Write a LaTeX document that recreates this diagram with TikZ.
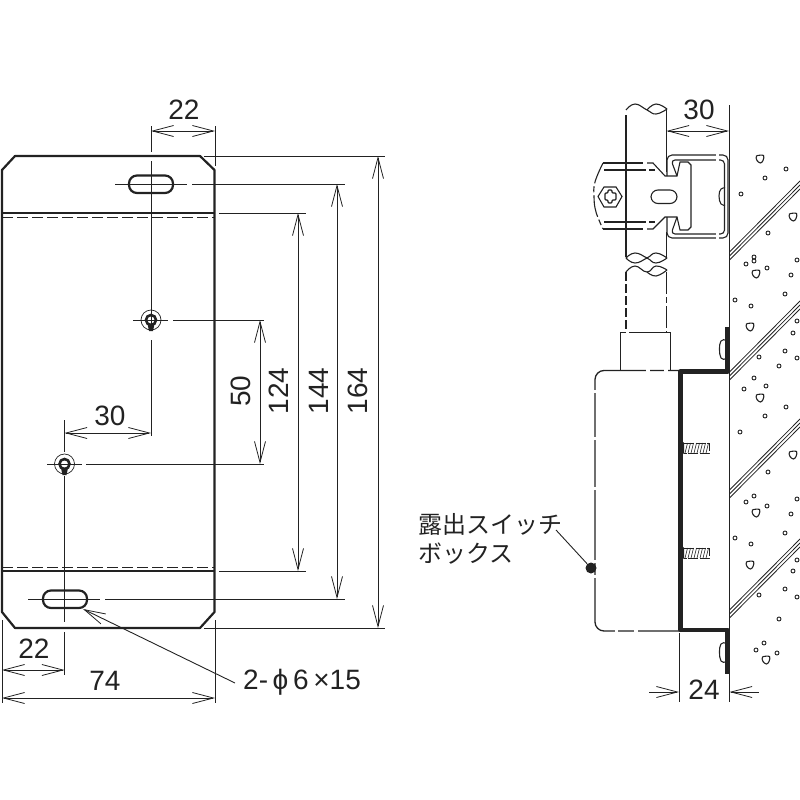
\documentclass[tikz,border=0pt]{standalone}
\usepackage{fontspec}
\setmainfont{Liberation Sans}
\newfontfamily\cjk{Noto Sans CJK JP}
\usetikzlibrary{positioning,arrows.meta}
\definecolor{ink}{HTML}{222222}
\tikzset{
	outline/.style={draw=ink,line width=2.2pt,line join=round},
	plate/.style={draw=ink,line width=4.4pt,line join=round},
	fine/.style={draw=ink,line width=1pt},
	part/.style={draw=ink,line width=1.1pt},
	dim/.style={draw=ink,line width=.9pt,{Straight Barb[length=21pt,width=11pt,line width=.8pt]}-{Straight Barb[length=21pt,width=11pt,line width=.8pt]}},
	ptr/.style={draw=ink,line width=.9pt,{Straight Barb[length=21pt,width=11pt,line width=.8pt]}-},
	ext/.style={draw=ink,line width=.9pt},
	num/.style={text=ink,font=\fontsize{28}{28}\selectfont,inner sep=0pt},
	jp/.style={text=ink,font=\cjk\fontsize{24}{24}\selectfont,inner sep=0pt,anchor=west},
	pebble/.style={draw=ink,line width=.9pt,circle,inner sep=0pt,minimum size=4pt}
}
\begin{document}
\begin{tikzpicture}[x=1pt,y=-1pt]
\useasboundingbox (0,0) rectangle (800,800);

% plate seen from the front
\draw[outline] (2,170)--(15,156)--(200,156)--(214.5,170)--(214.5,612)--(200,628)--(15,628)--(2,612)--cycle;
\draw[outline] (2,213)--(214.5,213);
\draw[outline] (2,571)--(214.5,571);
\draw[fine,dash pattern=on 11pt off 4pt] (2,217)--(214.5,217);
\draw[fine,dash pattern=on 11pt off 4pt] (2,567)--(214.5,567);
\draw[outline,rounded corners=8pt] (129,175.5) rectangle (173,193);
\draw[outline,rounded corners=8pt] (43,590.5) rectangle (87,608);

% key holes
\foreach \x/\y/\n in {151/320/holeA,64.5/464/holeB}{
	\node[circle,draw=ink,line width=.7pt,inner sep=0pt,minimum size=20pt] (\n) at (\x,\y) {};
	\draw[draw=ink,line width=2.6pt] (\x,\y) circle (5pt);
	\fill[ink] (\x-3.5,\y+4)--(\x+3.5,\y+4)--(\x+2,\y+11)--(\x-2,\y+11)--cycle;
}

% centre lines
\foreach \a/\b/\c/\d in {151/126/151/152,151/161/151/330,151/340/151/436,
	64.5/420/64.5/452,64.5/476/64.5/622,64.5/632/64.5/675,
	115/184/187/184,192/184/345/184,133/320/168/320,173/320/264/320,
	47/464/82/464,86/464/264/464,28/599/100/599,105/599/345/599,
	215/126/215/166,204/156/385/156,204/628/385/628,219/213/306/213,219/571/306/571,
	2/620/2/703,215/620/215/703,679/633/679/702}{
	\draw[ext] (\a,\b)--(\c,\d);
}

% dimensions
\foreach \a/\b/\c/\d in {151/131/215/131,64.5/433/151/433,2/670/64.5/670,2/698/215/698,
	378/156/378/628,337/184/337/599,298/213/298/571,260/320/260/464,666.5/131/729/131}{
	\draw[dim] (\a,\b)--(\c,\d);
}
\draw[ptr] (679,692)--(649,692);
\draw[ptr] (729.5,692)--(759,692);

\node[num] (top22) at (184,110) {22};
\node[num] (mid30) at (110,416) {30};
\node[num] (low22) at (34,649) {22};
\node[num] (wide74) at (105,681) {74};
\foreach \y/\t in {241/50,279/124,319/144,358/164}{
	\node[num,rotate=90] (h\t) at (\y,391) {\t};
}
\node[num] (wall30) at (699,110) {30};
\node[num] (wall24) at (704,690) {24};

\node[num,anchor=west] (slotlabel) at (243,682) {2-\,ϕ\,6\,×15};
\coordinate (slotedge) at (83,609);
\draw[ptr] (slotedge)--(235,683);

% wall
\draw[fine] (729.5,105)--(729.5,702);
\foreach \y in {252,256,260,372,376,380,490,494,498,610,614,618}{
	\draw[ext,line width=.8pt] (729.5,\y)--(800,\y-71);
}
\foreach \x/\y in {786/169,765/178,741/194,768/233,754/257,754/261,746/264,767/268,797/260,791/275,785/294,735/300,751/306,
	797/321,793/333,785/351,797/358,759/357,779/366,754/378,766/386,744/389,786/407,765/416,740/432,768/472,754/496,746/502,767/506,797/499,
	791/514,785/533,735/538,751/544,797/560,793/571,785/589,797/597,759/595,779/619,764/643,756/650,777/653}{
	\node[pebble] at (\x,\y) {};
}
\foreach \x/\y in {760/159,793/217,756/274,750/327,760/398,793/455,756/513,750/565,766/660}{
	\draw[part] plot[smooth cycle,tension=.6] coordinates {(\x-3.5,\y-3)(\x+3.5,\y-3.5)(\x+3,\y+1.5)(\x+.5,\y+4)(\x-3,\y+1.5)};
}

% pipe with its breaks
\draw[part] plot[smooth,tension=.8] coordinates {(626,110)(635,104)(647,110)(656,114)(667,109)};
\draw[part] plot[smooth,tension=.8] coordinates {(647,110)(656,104)(667,109)};
\draw[part] plot[smooth,tension=.8] coordinates {(626,258)(635,253)(647,258)(656,263)(667,258)};
\draw[part] plot[smooth,tension=.8] coordinates {(626,258)(635,263)(647,258)(656,253)(667,258)};
\draw[part] plot[smooth,tension=.8] coordinates {(626,272)(635,266)(647,272)(656,266)(667,270)};
\draw[part] plot[smooth,tension=.8] coordinates {(647,272)(656,276)(667,270)};
\draw[part] (626,115)--(626,257);
\draw[part] (666.5,110)--(666.5,172);
\draw[part] (666.5,232)--(666.5,258);
\draw[part,dash pattern=on 9pt off 3pt] (626,272)--(626,333);
\draw[part,dash pattern=on 22pt off 3pt on 6pt off 3pt] (666.5,272)--(666.5,333);

% clamp on the channel
\draw[part,line width=2pt] (603,163)--(643,163);
\draw[part] (647,163)--(653,163)--(665,176)--(677,176)--(680,162)--(688,162)--(691,165)--(691,227)--(688,230)--(680,230)--(677,217)--(665,217)--(653,229)--(647,229);
\draw[part,line width=2pt] (603,229)--(643,229);
\draw[part] (604,170)--(640,170);
\draw[part,dash pattern=on 6pt off 3pt] (640,170)--(655,170);
\draw[part] (604,222)--(640,222);
\draw[part,dash pattern=on 6pt off 3pt] (640,222)--(655,222);
\draw[part,dash pattern=on 22pt off 3pt on 6pt off 3pt] plot[smooth,tension=.7] coordinates {(603,163)(595,182)(594,197)(596,212)(603,229)};
\draw[part,rounded corners=7pt] (651,190) rectangle (677,203.5);
\draw[part] (598,196.5)--(604,187)--(616,187)--(622,196.5)--(616,207)--(604,207)--cycle;
\draw[part,rounded corners=1pt] (605,193)--(608,193)--(608,190)--(612,190)--(612,193)--(616,193)--(616,200)--(612,200)--(612,203)--(608,203)--(608,200)--(605,200)--cycle;

% channel
\draw[part,rounded corners=5pt] (667,176)--(667,155)--(728,155)--(728,238)--(667,238)--(667,217);
\draw[part,rounded corners=4pt] (677,176)--(671,160)--(724.5,160)--(724.5,234)--(671,234)--(677,217);
\draw[white,line width=2pt] (716,155)--(719,155) (716,238)--(719,238) (716,160)--(719,160) (716,234)--(719,234);
\draw[part] plot[smooth,tension=.8] coordinates {(725,188)(721,189)(719,196)(721,204)(725,205)};

% switch box
\draw[part,line width=1.3pt,rounded corners=9pt] (680,370.5)--(595,370.5)--(595,631)--(680,631);
\draw[white,line width=3pt] (646,370.5)--(650,370.5) (664,370.5)--(668,370.5);
\draw[white,line width=3pt] (615,631)--(618,631) (634,631)--(638,631);
\foreach \y in {390,437,487,560,575}{
	\draw[white,line width=3pt] (595,\y)--(595,\y+3);
}
\draw[part,line width=1.3pt] (620.5,370.5)--(620.5,332.5)--(670.5,332.5)--(670.5,370.5);
\draw[white,line width=3pt] (626,332.5)--(629,332.5);

% mounting plate
\draw[plate,line cap=butt] (727.5,327)--(727.5,371.5)--(680.5,371.5)--(680.5,630)--(727.5,630)--(727.5,674);
\foreach \y in {340,643}{
	\draw[part] plot[smooth,tension=.8] coordinates {(725,\y)(721,\y+1)(719.5,\y+9)(721,\y+18)(725,\y+19)};
}

% bolts
\foreach \y in {448,553}{
	\fill[ink] (682,\y-7)--(684,\y-5)--(684,\y+5)--(682,\y+7)--cycle;
	\draw[fine,dash pattern=on 10pt off 1.5pt] (684,\y-5)--(709,\y-5)--(709,\y+5)--(684,\y+5);
	\foreach \x in {685,688,...,706}{
		\draw[ext,line width=.6pt] (\x,\y+5)--(\x+2.5,\y-5);
	}
}

\node[jp] (boxA) at (418,524) {露出スイッチ};
\node[jp] (boxB) at (418,554) {ボックス};
\node[circle,fill=ink,inner sep=0pt,minimum size=11pt] (boxdot) at (591,568) {};
\coordinate (boxfree) at (556,530);
\draw[ext] (boxfree)--(boxdot);

\end{tikzpicture}
\end{document}
